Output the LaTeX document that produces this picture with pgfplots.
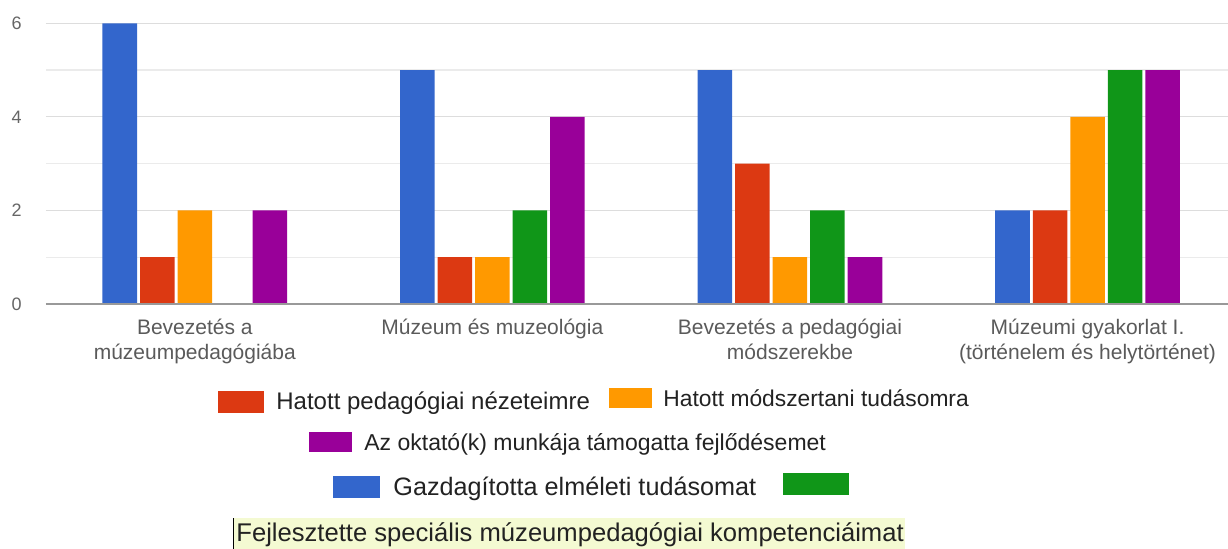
\documentclass[border=0pt]{standalone}
\usepackage{pgfplots}
\pgfplotsset{compat=1.18}
\usepackage{fontspec}
\setmainfont{Liberation Sans}
\definecolor{cblue}{HTML}{3366CC}
\definecolor{cred}{HTML}{DC3912}
\definecolor{corange}{HTML}{FF9900}
\definecolor{cgreen}{HTML}{109618}
\definecolor{cpurple}{HTML}{990099}
\definecolor{gridmaj}{HTML}{DDDDDD}
\definecolor{gridmin}{HTML}{EBEBEB}
\definecolor{basecol}{HTML}{999999}
\definecolor{ticklab}{HTML}{666666}
\definecolor{catlab}{HTML}{5A5A5A}
\definecolor{legtext}{HTML}{222222}
\definecolor{hilite}{HTML}{F4FAD2}
\begin{document}
\begin{tikzpicture}[x=1pt,y=1pt]
\useasboundingbox (0,0) rectangle (614,274.5);
\begin{axis}[
  at={(23pt,122.5pt)}, anchor=south west,
  scale only axis, width=591pt, height=140.35pt,
  xmin=-0.5, xmax=3.472, ymin=0, ymax=6,
  ybar=1.5pt, bar width=0.116,
  clip=false,
  axis line style={draw=none}, tick style={draw=none},
  xtick={0,1,2,3},
  xticklabels={{\rule{0pt}{10pt}Bevezetés a\\múzeumpedagógiába},{\rule{0pt}{10pt}Múzeum és muzeológia},{\rule{0pt}{10pt}Bevezetés a pedagógiai\\módszerekbe},{\rule{0pt}{10pt}Múzeumi gyakorlat I.\\(történelem és helytörténet)}},
  xticklabel style={align=center, font=\fontsize{10.5}{12.5}\selectfont, text=catlab, inner sep=0pt, anchor=north},
  xticklabel shift=1pt,
  ytick={0,2,4,6}, minor ytick={1,3,5},
  ymajorgrids, yminorgrids,
  major grid style={draw=gridmaj, line width=0.6pt},
  minor grid style={draw=gridmin, line width=0.6pt},
  /pgf/number format/assume math mode=true,
  yticklabel style={font=\fontsize{9}{10}\selectfont, text=ticklab, inner sep=0pt},
  yticklabel shift=12pt,
]
\addplot[fill=cblue, draw=none] coordinates {(0,6) (1,5) (2,5) (3,2)};
\addplot[fill=cred, draw=none] coordinates {(0,1) (1,1) (2,3) (3,2)};
\addplot[fill=corange, draw=none] coordinates {(0,2) (1,1) (2,1) (3,4)};
\addplot[fill=cgreen, draw=none] coordinates {(0,0) (1,2) (2,2) (3,5)};
\addplot[fill=cpurple, draw=none] coordinates {(0,2) (1,4) (2,1) (3,5)};
\draw[basecol, line width=1pt] (axis cs:-0.5,0) -- (axis cs:3.472,0);
\end{axis}
% legend (arranged as in the reference)
\fill[cred] (109.2,67.9) rectangle (132.2,79);
\node[anchor=base west, inner sep=0pt, text=legtext, font=\fontsize{12}{14}\selectfont] at (138,69.9) {Hatott pedagógiai nézeteimre};
\fill[corange] (304.5,70.5) rectangle (326.2,80.5);
\node[anchor=base west, inner sep=0pt, text=legtext, font=\fontsize{11.4}{14}\selectfont] at (331.5,71.4) {Hatott módszertani tudásomra};
\fill[cpurple] (154.5,48.3) rectangle (176,58.3);
\node[anchor=base west, inner sep=0pt, text=legtext, font=\fontsize{11.5}{14}\selectfont] at (182,49) {Az oktató(k) munkája támogatta fejlődésemet};
\fill[cblue] (166.5,25.5) rectangle (190,36.5);
\node[anchor=base west, inner sep=0pt, text=legtext, font=\fontsize{12.6}{14}\selectfont] at (196.5,26.5) {Gazdagította elméleti tudásomat};
\fill[cgreen] (391.5,27) rectangle (424.5,38);
\fill[hilite] (116.5,0) rectangle (452.5,15.5);
\draw[black, line width=0.6pt] (116.8,0) -- (116.8,15.5);
\node[anchor=base west, inner sep=0pt, text=legtext, font=\fontsize{12.8}{14}\selectfont] at (118,3.6) {Fejlesztette speciális múzeumpedagógiai kompetenciáimat};
\end{tikzpicture}
\end{document}
